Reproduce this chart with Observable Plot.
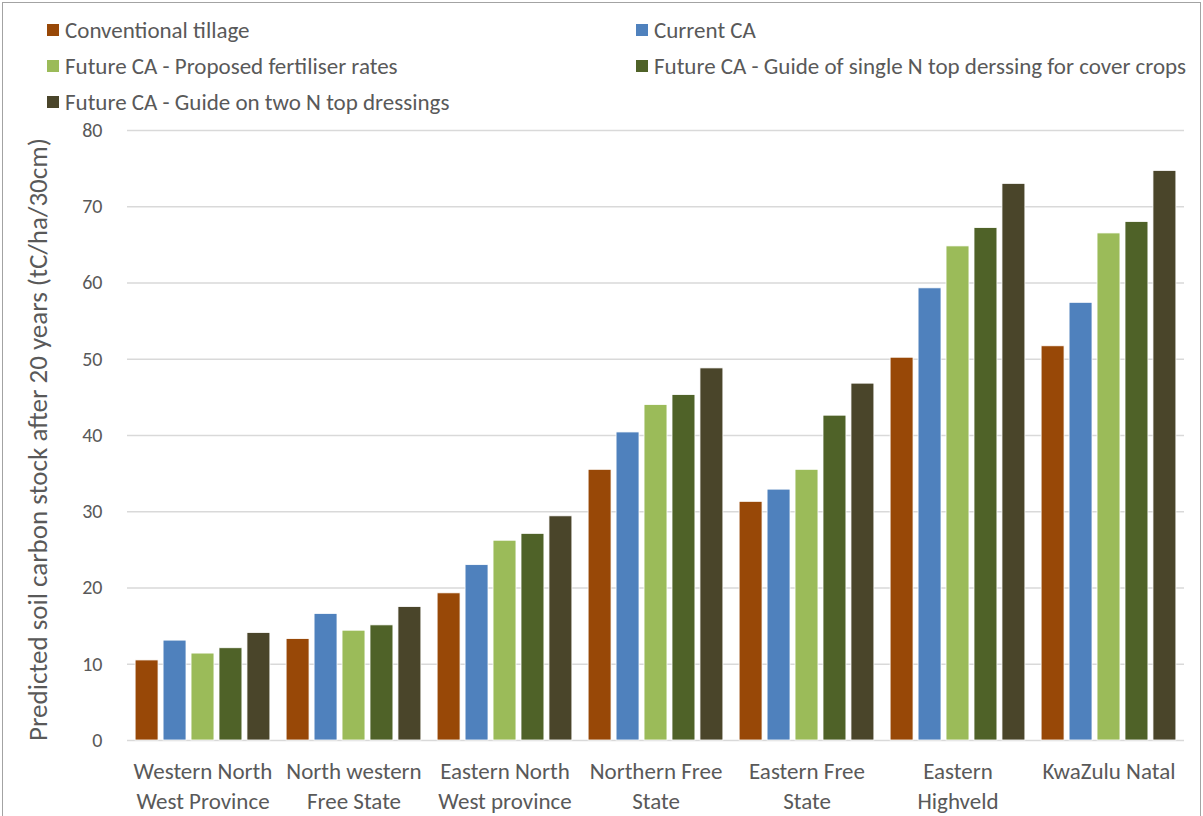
<!DOCTYPE html>
<html>
<head>
<meta charset="utf-8">
<script src="https://cdn.jsdelivr.net/npm/d3@7"></script>
<script src="https://cdn.jsdelivr.net/npm/@observablehq/plot@0.6"></script>
<style>
  html, body { margin: 0; padding: 0; background: #fff; overflow: hidden; }
  #chart {
    position: absolute; left: 2px; top: 2px; width: 1199px; height: 840px;
    border: 1px solid #a3a3a3; box-sizing: border-box; background: #fff;
    font-family: Carlito, Calibri, Lato, sans-serif; color: #595959;
  }
  #legend {
    display: grid; grid-template-columns: 589px 589px; grid-auto-rows: 36px;
    padding: 9px 0 0 44px; height: 117px; box-sizing: border-box;
  }
  .item { display: flex; align-items: center; font-size: 23px; white-space: nowrap; }
  .sw { width: 12px; height: 12px; margin-right: 6px; flex: none; }
  svg { display: block; }
</style>
</head>
<body>
<div id="chart">
  <div id="legend"></div>
</div>
<script>
// Regions (x categories) and their wrapped tick labels
const regions = [
  "Western North West Province",
  "North western Free State",
  "Eastern North West province",
  "Northern Free State",
  "Eastern Free State",
  "Eastern Highveld",
  "KwaZulu Natal"
];
const regionLabels = [
  "Western North\nWest Province",
  "North western\nFree State",
  "Eastern North\nWest province",
  "Northern Free\nState",
  "Eastern Free\nState",
  "Eastern\nHighveld",
  "KwaZulu Natal"
];

// Management scenarios
const series = [
  "Conventional tillage",
  "Current CA",
  "Future CA - Proposed fertiliser rates",
  "Future CA - Guide of single N top derssing for cover crops",
  "Future CA - Guide on two N top dressings"
];
const seriesColors = ["#984807", "#4F81BD", "#9BBB59", "#4F6228", "#4A452A"];

// Predicted soil carbon stock (tC/ha/30cm) per region, one array per scenario
const conventionalTillage = [10.5, 13.3, 19.3, 35.5, 31.3, 50.2, 51.7];
const currentCA           = [13.1, 16.6, 23.0, 40.4, 32.9, 59.3, 57.4];
const futureProposed      = [11.4, 14.4, 26.2, 44.0, 35.5, 64.8, 66.5];
const futureSingleN       = [12.1, 15.1, 27.1, 45.3, 42.6, 67.2, 68.0];
const futureTwoN          = [14.1, 17.5, 29.4, 48.8, 46.8, 73.0, 74.7];

const yTicks = [0, 10, 20, 30, 40, 50, 60, 70, 80];
const yTitle = "Predicted soil carbon stock after 20 years (tC/ha/30cm)";

const seriesValues = [conventionalTillage, currentCA, futureProposed, futureSingleN, futureTwoN];
const data = [];
regions.forEach((r, i) => {
  series.forEach((s, j) => data.push({region: r, series: s, value: seriesValues[j][i]}));
});

// Legend laid out row by row in two columns
const legend = d3.select("#legend");
series.forEach((s, j) => {
  const it = legend.append("div").attr("class", "item");
  it.append("span").attr("class", "sw").style("background", seriesColors[j]);
  it.append("span").text(s);
});

const font = "Carlito, Calibri, Lato, sans-serif";

const chart = Plot.plot({
  width: 1197,
  height: 696,
  marginTop: 10,
  marginBottom: 76,
  marginLeft: 124,
  marginRight: 16,
  style: {fontFamily: font, color: "#595959", background: "transparent", overflow: "visible"},
  fx: {domain: regions, padding: 0, round: false, label: null},
  x: {domain: series, paddingInner: 0.18, paddingOuter: 0.29, round: false, axis: null},
  y: {domain: [0, 80], label: null},
  color: {domain: series, range: seriesColors},
  marks: [
    Plot.gridY(yTicks, {stroke: "#d9d9d9", strokeOpacity: 1, strokeWidth: 1.3}),
    Plot.barY(data, {
      fx: "region", x: "series", y: "value", fill: "series",
      stroke: "#ffffff", strokeWidth: 0.8
    }),
    Plot.axisY({
      ticks: yTicks, tickSize: 0, tickPadding: 25, label: null,
      fontSize: 20, fill: "#595959"
    }),
    Plot.axisFx({
      anchor: "bottom", tickSize: 0, tickPadding: 17, label: null,
      tickFormat: d => regionLabels[regions.indexOf(d)],
      fontSize: 23, lineHeight: 1.3, fill: "#595959"
    }),
    Plot.text([yTitle], {
      fx: () => regions[0], text: d => d, frameAnchor: "left",
      rotate: -90, dx: -89, dy: 4, textAnchor: "middle",
      fontSize: 27, fill: "#595959"
    })
  ]
});

document.getElementById("chart").appendChild(chart);
</script>
</body>
</html>
